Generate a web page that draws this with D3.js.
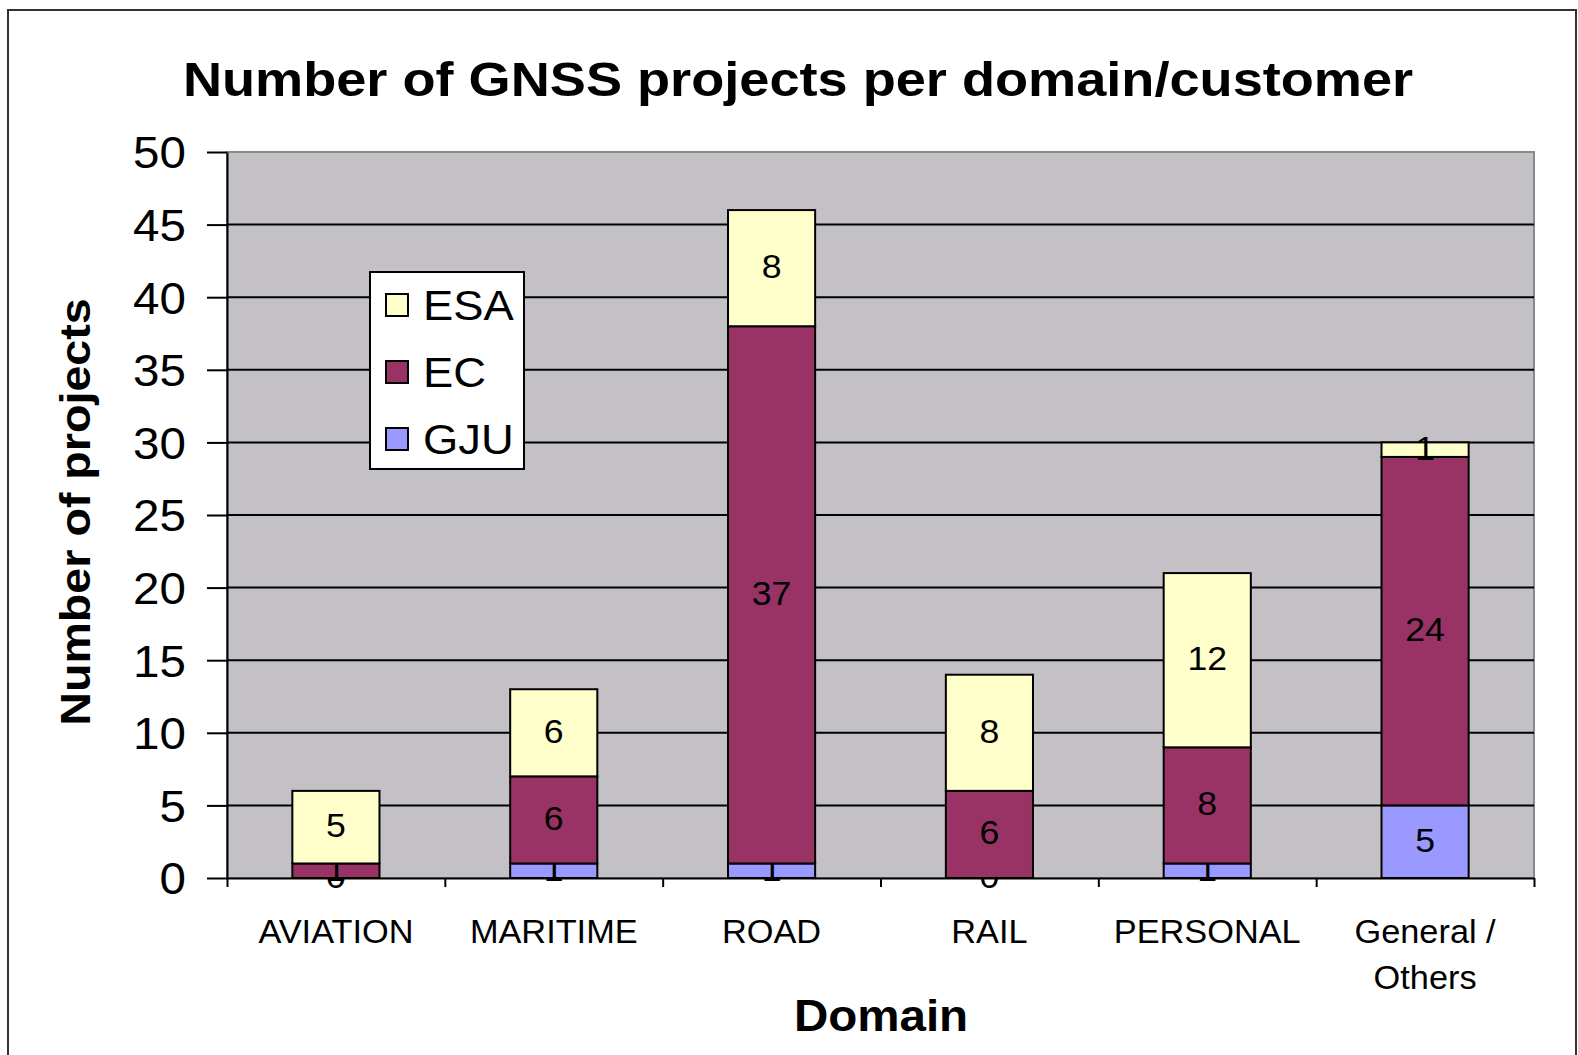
<!DOCTYPE html>
<html>
<head>
<meta charset="utf-8">
<script src="https://cdn.jsdelivr.net/npm/d3@7"></script>
<style>
body { margin: 0; background: #fff; }
text { font-family: "Liberation Sans", Arial, sans-serif; fill: #000; }
</style>
</head>
<body>
<div id="chart"></div>
<script>
// data
var categories = ["AVIATION", "MARITIME", "ROAD", "RAIL", "PERSONAL", "General / Others"];
var categoryLines = [["AVIATION"], ["MARITIME"], ["ROAD"], ["RAIL"], ["PERSONAL"], ["General /", "Others"]];
var gju = [0, 1, 1, 0, 1, 5];
var ec = [1, 6, 37, 6, 8, 24];
var esa = [5, 6, 8, 8, 12, 1];
var seriesNames = ["GJU", "EC", "ESA"];
var legendOrder = ["ESA", "EC", "GJU"];
var yTicks = [0, 5, 10, 15, 20, 25, 30, 35, 40, 45, 50];

var colors = {GJU: "#9999ff", EC: "#993366", ESA: "#ffffcc"};
var SX = 1.08; // the source image is a bit wide, stretch text to match

var svgWidth = 1578, svgHeight = 1055;
var margin = {top: 152, left: 227, right: 44, bottom: 177};
var width = svgWidth - margin.left - margin.right;
var height = svgHeight - margin.top - margin.bottom;

var svg = d3.select("#chart").append("svg").attr("width", svgWidth).attr("height", svgHeight);

// outer frame
svg.append("rect").attr("x", 8).attr("y", 10).attr("width", 1568).attr("height", 1100)
    .attr("fill", "#fff").attr("stroke", "#333").attr("stroke-width", 2);

var table = categories.map(function(c, i) {
    return {cat: c, GJU: gju[i], EC: ec[i], ESA: esa[i]};
});
var stacked = d3.stack().keys(seriesNames)(table);

var x = d3.scaleBand().domain(categories).range([0, width]).paddingInner(0.6).paddingOuter(0.3);
var xEdge = d3.scaleLinear().domain([0, categories.length]).range([0, width]);
var y = d3.scaleLinear().domain([0, 50]).range([height, 0]);

var g = svg.append("g").attr("transform", `translate(${margin.left},${margin.top})`);

// plot background
g.append("rect").attr("width", width).attr("height", height)
    .attr("fill", "#c3c1c5").attr("stroke", "#8a8a8a").attr("stroke-width", 2);

// gridlines
g.selectAll(".grid").data(yTicks.filter(d => d > 0 && d < 50)).enter().append("line")
    .attr("x1", 0).attr("x2", width)
    .attr("y1", d => y(d)).attr("y2", d => y(d))
    .attr("stroke", "#000").attr("stroke-width", 2);

// bars
var layer = g.selectAll(".layer").data(stacked).enter().append("g")
    .attr("fill", d => colors[d.key]);
layer.selectAll("rect").data(d => d).enter().append("rect")
    .attr("x", d => x(d.data.cat))
    .attr("width", x.bandwidth())
    .attr("y", d => y(d[1]))
    .attr("height", d => y(d[0]) - y(d[1]))
    .attr("stroke", "#000").attr("stroke-width", 2);

// y axis
var yAxis = g.append("g").call(d3.axisLeft(y).tickValues(yTicks).tickSizeInner(20).tickSizeOuter(0));
yAxis.select(".domain").attr("stroke", "#000").attr("stroke-width", 2);
yAxis.selectAll(".tick line").attr("stroke", "#000").attr("stroke-width", 2);
yAxis.selectAll(".tick text").attr("x", -38).attr("dy", "0.36em")
    .attr("transform", `scale(${SX},1)`)
    .style("font-size", "44px").style("font-family", "Liberation Sans, Arial, sans-serif").attr("fill", "#000");

// x axis, ticks on category edges
var xAxis = g.append("g").attr("transform", `translate(0,${height})`)
    .call(d3.axisBottom(xEdge).ticks(categories.length).tickFormat("").tickSizeInner(9).tickSizeOuter(0));
xAxis.select(".domain").attr("stroke", "#000").attr("stroke-width", 2);
xAxis.selectAll(".tick line").attr("stroke", "#000").attr("stroke-width", 2);

// category labels
categories.forEach(function(c, i) {
    var t = g.append("text").attr("text-anchor", "middle")
        .attr("transform", `translate(${x(c) + x.bandwidth() / 2},${height + 65}) scale(1.04,1)`)
        .style("font-size", "33px");
    categoryLines[i].forEach(function(line, k) {
        t.append("tspan").attr("x", 0).attr("y", k * 46).text(line);
    });
});

// value labels
layer.selectAll(".val").data(d => d).enter().append("text")
    .attr("text-anchor", "middle")
    .attr("transform", d => `translate(${x(d.data.cat) + x.bandwidth() / 2},${(y(d[0]) + y(d[1])) / 2 + 10}) scale(${SX},1)`)
    .style("font-size", "33px").attr("fill", "#000")
    .text(d => d[1] - d[0]);

// title
svg.append("text").attr("text-anchor", "middle")
    .attr("transform", `translate(798,96) scale(1.105,1)`)
    .style("font-size", "49px").style("font-weight", "bold")
    .text("Number of GNSS projects per domain/customer");

// axis titles
svg.append("text").attr("text-anchor", "middle")
    .attr("transform", `translate(881,1031) scale(${SX},1)`)
    .style("font-size", "44px").style("font-weight", "bold")
    .text("Domain");
svg.append("text").attr("text-anchor", "middle")
    .attr("transform", `translate(90,512) rotate(-90) scale(1.06,0.98)`)
    .style("font-size", "44px").style("font-weight", "bold")
    .text("Number of projects");

// legend
var legend = svg.append("g").attr("transform", "translate(370,272)");
legend.append("rect").attr("width", 154).attr("height", 197)
    .attr("fill", "#fff").attr("stroke", "#000").attr("stroke-width", 2);
legendOrder.forEach(function(k, i) {
    var cy = 33 + i * 67;
    legend.append("rect").attr("x", 16).attr("y", cy - 11).attr("width", 22).attr("height", 22)
        .attr("fill", colors[k]).attr("stroke", "#000").attr("stroke-width", 2);
    legend.append("text").attr("transform", `translate(53,${cy + 15}) scale(${SX},1)`)
        .style("font-size", "42px").text(k);
});
</script>
</body>
</html>
